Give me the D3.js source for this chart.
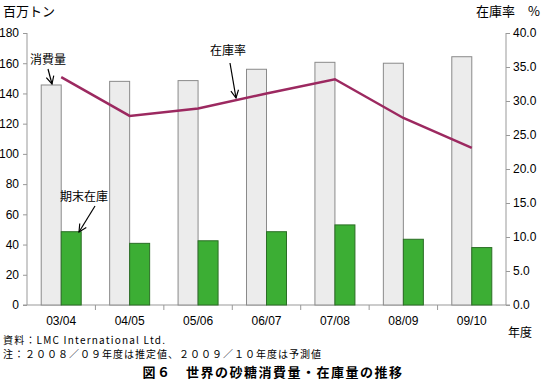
<!DOCTYPE html>
<html>
<head>
<meta charset="utf-8">
<script src="https://cdn.jsdelivr.net/npm/d3@7"></script>
<style>
	body { margin: 0; background: #fff; }
	text { font-family: "Noto Sans CJK JP", "DejaVu Sans", sans-serif; fill: #000; }
	.tick text { font-family: "Liberation Sans", sans-serif; font-size: 12px; }
	.axis path, .axis line { stroke: #999; }
</style>
</head>
<body>
<div id="chart"></div>
<script>
var years = ["03/04", "04/05", "05/06", "06/07", "07/08", "08/09", "09/10"];
var consumption = [145.6, 148, 148.5, 156, 160.6, 160, 164.3];
var stocks = [48.5, 40.8, 42.5, 48.5, 53, 43.5, 38];
var stockRatio = [33.5, 27.8, 28.9, 31.1, 33.2, 27.5, 23.1];
var leftTicks = [0, 20, 40, 60, 80, 100, 120, 140, 160, 180];
var rightTicks = [0, 5, 10, 15, 20, 25, 30, 35, 40];

var W = 543, H = 391,
	margin = {top: 33, right: 37, bottom: 86, left: 27},
	width = W - margin.left - margin.right,
	height = H - margin.top - margin.bottom;

var svg = d3.select("#chart").append("svg")
	.attr("width", W)
	.attr("height", H);

var g = svg.append("g")
	.attr("transform", "translate(" + margin.left + "," + margin.top + ")");

var x = d3.scaleBand()
	.domain(years)
	.range([0, width]);

var y = d3.scaleLinear()
	.domain([0, 180])
	.range([height, 0]);

var y2 = d3.scaleLinear()
	.domain([0, 40])
	.range([height, 0]);

var barW = 20;

/* axes */

g.append("g")
	.attr("class", "axis")
	.call(d3.axisLeft(y).tickValues(leftTicks).tickSize(4).tickPadding(4))
	.call(function(a) { a.select(".domain").attr("d", "M0,0V" + height); });

g.append("g")
	.attr("class", "axis")
	.attr("transform", "translate(" + width + ",0)")
	.call(d3.axisRight(y2).tickValues(rightTicks).tickSize(4).tickPadding(3)
		.tickFormat(function(d) { return d.toFixed(1); }))
	.call(function(a) { a.select(".domain").attr("d", "M0,0V" + height); });

var xAxis = g.append("g")
	.attr("class", "axis")
	.attr("transform", "translate(0," + height + ")");
xAxis.append("line")
	.attr("x1", -4).attr("x2", width + 4)
	.attr("stroke", "#999");
xAxis.selectAll(".sep")
	.data(years.slice(1))
	.enter().append("line")
	.attr("x1", function(d) { return x(d); })
	.attr("x2", function(d) { return x(d); })
	.attr("y1", 0).attr("y2", 5)
	.attr("stroke", "#999");
xAxis.selectAll(".lbl")
	.data(years)
	.enter().append("text")
	.attr("x", function(d) { return x(d) + x.bandwidth() / 2; })
	.attr("y", 20)
	.attr("text-anchor", "middle")
	.style("font-family", "Liberation Sans, sans-serif")
	.style("font-size", "12px")
	.text(function(d) { return d; });

/* bars */

g.selectAll(".cons")
	.data(years)
	.enter().append("rect")
	.attr("x", function(d) { return x(d) + x.bandwidth() / 2 - barW; })
	.attr("y", function(d, i) { return y(consumption[i]); })
	.attr("width", barW)
	.attr("height", function(d, i) { return height - y(consumption[i]); })
	.attr("fill", "#ececec")
	.attr("stroke", "#8a8a8a");

g.selectAll(".stock")
	.data(years)
	.enter().append("rect")
	.attr("x", function(d) { return x(d) + x.bandwidth() / 2; })
	.attr("y", function(d, i) { return y(stocks[i]); })
	.attr("width", barW)
	.attr("height", function(d, i) { return height - y(stocks[i]); })
	.attr("fill", "#3cae34")
	.attr("stroke", "#2a6e25");

/* ratio line */

var line = d3.line()
	.x(function(d, i) { return x(years[i]) + x.bandwidth() / 2; })
	.y(function(d) { return y2(d); });

g.append("path")
	.datum(stockRatio)
	.attr("fill", "none")
	.attr("stroke", "#9c2960")
	.attr("stroke-width", 2.5)
	.attr("d", line);

/* annotations */

svg.append("defs").append("marker")
	.attr("id", "arr")
	.attr("viewBox", "0 0 10 10")
	.attr("refX", 9).attr("refY", 5)
	.attr("markerWidth", 8).attr("markerHeight", 8)
	.attr("orient", "auto")
	.append("path")
	.attr("d", "M1,1L9,5L1,9")
	.attr("fill", "none")
	.attr("stroke", "#000")
	.attr("stroke-width", 1.2);

function note(txt, tx, ty, x1, y1, x2, y2) {
	svg.append("text")
		.attr("x", tx).attr("y", ty)
		.style("font-size", "12px")
		.text(txt);
	svg.append("line")
		.attr("x1", x1).attr("y1", y1)
		.attr("x2", x2).attr("y2", y2)
		.attr("stroke", "#000")
		.attr("stroke-width", 1.2)
		.attr("marker-end", "url(#arr)");
}

note("消費量", 30, 64, 48, 69, 52, 84);
note("在庫率", 210, 55, 230, 63, 236, 98);
note("期末在庫", 60, 201, 95, 206, 79, 232);

/* titles */

svg.append("text").attr("x", 3).attr("y", 16)
	.style("font-size", "13px").text("百万トン");
svg.append("text").attr("x", 540).attr("y", 16)
	.attr("text-anchor", "end")
	.style("font-size", "13px").text("在庫率　%");
svg.append("text").attr("x", 532).attr("y", 337)
	.attr("text-anchor", "end")
	.style("font-size", "12px").text("年度");
svg.append("text").attr("x", 3).attr("y", 343.5)
	.style("font-size", "10px")
	.attr("textLength", 162)
	.attr("lengthAdjust", "spacing")
	.text("資料：LMC International Ltd.");
svg.append("text").attr("x", 3).attr("y", 358)
	.style("font-size", "10px")
	.style("letter-spacing", "1px")
	.text("注：２００８／０９年度は推定値、２００９／１０年度は予測値");
svg.append("text").attr("x", 273).attr("y", 377)
	.attr("text-anchor", "middle")
	.style("font-size", "13px")
	.style("font-weight", "bold")
	.style("letter-spacing", "1.5px")
	.text("図６　世界の砂糖消費量・在庫量の推移");
</script>
</body>
</html>
